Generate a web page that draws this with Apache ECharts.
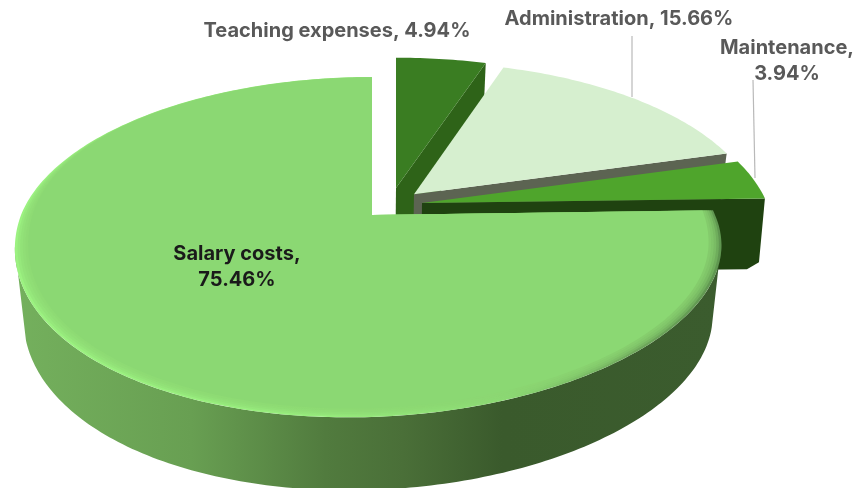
<!DOCTYPE html>
<html>
<head>
<meta charset="utf-8">
<style>html,body{margin:0;padding:0;background:#fff}#c{width:860px;height:488px}</style>
<script src="https://cdn.jsdelivr.net/npm/echarts@6/dist/echarts.min.js"></script>
</head>
<body>
<div id="c"></div>
<script>
const categories = ['Teaching expenses', 'Administration', 'Maintenance', 'Salary costs'];
const values = [4.94, 15.66, 3.94, 75.46];

const faceColors = ['#3A7D22', '#D6EFCF', '#4FA52C', '#8BD873'];
const wallColors = ['#2E6318', '#5C6452', '#1F4210', '#3A5A2C'];
const explodeX = [24, 42, 50, 0];
const explodeV = [0.17, 0.13, 0.074, 0];
const radiusU = [1.03, 1.02, 1.02, 1];
const lowShrink = [0.975, 0.975, 0.985, 0.975];
const labelX = [337, 619, 787, 237];
const labelY = [31, 19, 61, 267];
const labelColors = ['#595959', '#595959', '#595959', '#1a1a1a'];
const labelTexts = [
  categories[0] + ', ' + values[0].toFixed(2) + '%',
  categories[1] + ', ' + values[1].toFixed(2) + '%',
  categories[2] + ',\n' + values[2].toFixed(2) + '%',
  categories[3] + ',\n' + values[3].toFixed(2) + '%'
];

// Perspective view of a disc lying on a plane
const X0 = 372, Y0 = 215, A = 347, B = 164, K = 0.188, SKEW = 4, TILT = 14;
const DEPTH = 70, XMID = 368;

function project(u, v, low, i) {
  const w = 1 + K * v;
  let x = X0 + explodeX[i] + A * u / w - SKEW * u * u;
  let y = Y0 - B * v / w - TILT * u * Math.max(0, -v);
  if (low) {
    x = XMID + (x - XMID) * lowShrink[i];
    y += DEPTH - 3 * v;
  }
  return [x, y];
}
const total = values.reduce((a, b) => a + b, 0);
function startAngle(i) {
  let s = 0;
  for (let k = 0; k < i; k++) s += values[k];
  return s / total * 2 * Math.PI;
}
function rimPoint(i, r, t, low) {
  return project(r * radiusU[i] * Math.sin(t), explodeV[i] + r * Math.cos(t), low, i);
}
function arcPts(i, rFn, a0, a1, low) {
  const n = Math.max(8, Math.round(Math.abs(a1 - a0) * 60)), pts = [];
  for (let j = 0; j <= n; j++) {
    const t = a0 + (a1 - a0) * j / n;
    pts.push(rimPoint(i, rFn(t), t, low));
  }
  return pts;
}
const FULL = () => 1;
// bevel width: thin towards the back of the disc, full at the front
function bevel(level) {
  return t => {
    const s = Math.min(1, Math.max(0, (0.7 - Math.cos(t)) / 0.9));
    return 1 - level * (0.006 + 0.03 * s * s * (3 - 2 * s));
  };
}
function poly(points, fill, opacity) {
  const style = { fill: fill };
  if (opacity !== undefined) style.opacity = opacity;
  return { type: 'polygon', shape: { points: points }, style: style };
}
function grad(stops) {
  return new echarts.graphic.LinearGradient(0, 0, 1, 0, stops.map(s => ({ offset: s[0], color: s[1] })));
}
const DEG = Math.PI / 180;

function renderItem(params, api) {
  const i = params.dataIndex;
  const val = api.value(0);
  const a0 = startAngle(i), a1 = a0 + val / total * 2 * Math.PI;
  const apex = project(0, explodeV[i], false, i);
  const apexLow = project(0, explodeV[i], true, i);
  const ch = [];
  if (i < 3) {
    const eTop = rimPoint(i, 1, a1, false), eLow = rimPoint(i, 1, a1, true);
    const wall = i === 2
      ? [apex, eTop, [eLow[0], eLow[1] - 6], [eLow[0] - 12, eLow[1] + 1], apexLow]
      : [apex, eTop, eLow, apexLow];
    ch.push(poly(wall, wallColors[i]));
    ch.push(poly([apex].concat(arcPts(i, FULL, a0, a1, false)), faceColors[i]));
  } else {
    // outer curved wall between the silhouette tangents
    const topRim = arcPts(i, FULL, 100 * DEG, 260 * DEG, false);
    const lowRim = arcPts(i, FULL, 253 * DEG, 105 * DEG, true);
    ch.push(poly(topRim.concat(lowRim), grad([
      [0, '#74B05D'], [0.25, '#689F52'], [0.44, '#517B3E'], [0.55, '#4A6F38'], [0.69, '#3A5A2C'], [1, '#3B5C2E']
    ])));
    // bevelled rim and flat face
    ch.push(poly([apex].concat(arcPts(i, FULL, a0, a1, false)), grad([
      [0, '#9CF281'], [0.45, '#97EC7D'], [0.7, '#8BD873'], [0.88, '#6FA85C'], [1, '#5F9650']
    ])));
    [0.2, 0.4, 0.6, 0.8].forEach(l => {
      ch.push(poly([apex].concat(arcPts(i, bevel(l), a0, a1, false)), faceColors[i], 0.35));
    });
    ch.push(poly([apex].concat(arcPts(i, bevel(1), a0, a1, false)), faceColors[i]));
  }
  if (i === 1) {
    ch.push({ type: 'line', shape: { x1: 632, y1: 36, x2: 632, y2: 97 }, style: { stroke: '#B9B9B9', lineWidth: 1.2 } });
  }
  if (i === 2) {
    ch.push({ type: 'line', shape: { x1: 753, y1: 80, x2: 755, y2: 178 }, style: { stroke: '#B9B9B9', lineWidth: 1.2 } });
  }
  ch.push({
    type: 'text', z2: 10,
    style: {
      text: labelTexts[i], x: labelX[i], y: labelY[i], align: 'center', verticalAlign: 'middle',
      fill: labelColors[i], font: 'bold 20px "Inter", sans-serif', lineHeight: 26
    }
  });
  return { type: 'group', children: ch };
}

const chart = echarts.init(document.getElementById('c'), null, { renderer: 'canvas' });
chart.setOption({
  animation: false,
  backgroundColor: '#fff',
  series: [{
    type: 'custom',
    coordinateSystem: 'none',
    silent: true,
    renderItem: renderItem,
    encode: { value: 0 },
    data: values.map(v => [v])
  }]
});
</script>
</body>
</html>
